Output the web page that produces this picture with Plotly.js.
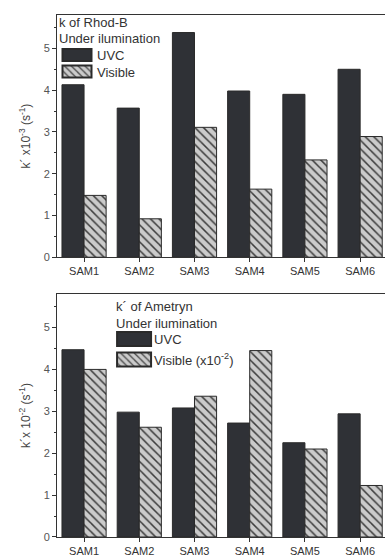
<!DOCTYPE html>
<html>
<head>
<meta charset="utf-8">
<script src="https://cdn.plot.ly/plotly-3.0.1.min.js"></script>
<style>html,body{margin:0;padding:0;background:#fff;}#chart{width:385px;height:557px;}</style>
</head>
<body>
<div id="chart"></div>
<script>
const categories = ["SAM1", "SAM2", "SAM3", "SAM4", "SAM5", "SAM6"];
const rhodUVC = [4.13, 3.57, 5.38, 3.98, 3.90, 4.50];
const rhodVisible = [1.48, 0.92, 3.11, 1.63, 2.33, 2.89];
const ametrynUVC = [4.47, 2.98, 3.08, 2.72, 2.25, 2.94];
const ametrynVisible = [4.00, 2.62, 3.36, 4.45, 2.10, 1.23];
const yTicks = [0, 1, 2, 3, 4, 5];

const darkFill = "#2f3136";
const hatch = {shape: "\\", bgcolor: "#cbcbcb", fgcolor: "#3c3c3c", size: 6, solidity: 0.25};
const outline = {color: "#2a2a2a", width: 1};

const data = [
  {type: "bar", x: categories, y: rhodUVC, name: "UVC", xaxis: "x", yaxis: "y",
   marker: {color: darkFill, line: outline}, legend: "legend"},
  {type: "bar", x: categories, y: rhodVisible, name: "Visible", xaxis: "x", yaxis: "y",
   marker: {color: "#cbcbcb", pattern: hatch, line: outline}, legend: "legend"},
  {type: "bar", x: categories, y: ametrynUVC, name: "UVC", xaxis: "x2", yaxis: "y2",
   marker: {color: darkFill, line: outline}, legend: "legend2"},
  {type: "bar", x: categories, y: ametrynVisible, name: "Visible (x10<sup>-2</sup>)", xaxis: "x2", yaxis: "y2",
   marker: {color: "#cbcbcb", pattern: hatch, line: outline}, legend: "legend2"}
];

const fontFam = "Liberation Sans, Arial, sans-serif";
function xa(anchor) {
  return {anchor: anchor, range: [-0.49, 5.45], showline: true, linecolor: "#333", linewidth: 1, mirror: true,
    ticks: "outside", ticklen: 4, tickcolor: "#333", tickfont: {family: fontFam, size: 11, color: "#333"},
    showgrid: false, zeroline: false, fixedrange: true};
}
function ya(anchor, domain, title) {
  return {anchor: anchor, domain: domain, range: [0, 5.8], tickvals: yTicks, ticktext: yTicks.map(String),
    showline: true, linecolor: "#333", linewidth: 1, mirror: true,
    ticks: "outside", ticklen: 4, tickcolor: "#333", tickfont: {family: fontFam, size: 11, color: "#555"},
    minor: {dtick: 0.5, ticks: "outside", ticklen: 2, tickcolor: "#333"},
    showgrid: false, zeroline: false, fixedrange: true,
    title: {text: title, font: {family: fontFam, size: 12, color: "#444"}, standoff: 10}};
}

const legendFont = {family: fontFam, size: 13, color: "#333"};
const legendBase = {bgcolor: "rgba(0,0,0,0)", borderwidth: 0, font: legendFont,
  itemwidth: 30, xanchor: "left", yanchor: "top", itemsizing: "constant", tracegroupgap: 0};

const layout = {
  width: 385, height: 557,
  margin: {l: 57, r: 0, t: 15, b: 20},
  paper_bgcolor: "#fff", plot_bgcolor: "#fff",
  barmode: "group", bargap: 0.2, bargroupgap: 0,
  font: {family: fontFam},
  xaxis: xa("y"),
  yaxis: ya("x", [0.536, 1], "k´ x10<sup>-3</sup> (s<sup>-1</sup>)"),
  xaxis2: xa("y2"),
  yaxis2: ya("x2", [0, 0.4655], "k´x 10<sup>-2</sup> (s<sup>-1</sup>)"),
  legend: Object.assign({}, legendBase, {x: 0.0, y: 1.0,
    title: {text: "k of Rhod-B<br>Under ilumination", font: legendFont, side: "top"}}),
  legend2: Object.assign({}, legendBase, {x: 0.174, y: 0.4655,
    title: {text: "k´ of Ametryn<br>Under ilumination", font: legendFont, side: "top"}}),
  showlegend: true
};

// target vertical centres (px) for legend rows: [title line 1, title line 2, item 1, item 2]
const legendRows = {legend: [22.5, 38.5, 55, 71.5], legend2: [304, 322, 339, 359.5]};

function cy(el) { const r = el.getBoundingClientRect(); return (r.top + r.bottom) / 2; }

Plotly.newPlot("chart", data, layout, {displayModeBar: false, staticPlot: true}).then(function (gd) {
  ["legend", "legend2"].forEach(function (name) {
    const lg = gd.querySelector("g." + name);
    if (!lg) return;
    const rows = legendRows[name];
    const title = lg.querySelector("text.legendtitletext");
    if (title) {
      const lines = title.querySelectorAll("tspan.line");
      const first = lines.length ? lines[0] : title;
      const d1 = rows[0] - cy(first);
      const prev = title.getAttribute("transform") || "";
      title.setAttribute("transform", prev + " translate(0," + d1 + ")");
      if (lines.length > 1) {
        const d2 = rows[1] - cy(lines[1]);
        const fs = 13;
        lines[1].setAttribute("dy", (1.3 * fs + d2) + "px");
      }
    }
    const items = lg.querySelectorAll("g.traces");
    items.forEach(function (g, i) {
      const path = g.querySelector(".legendpoints path");
      if (!path) return;
      path.setAttribute("d", name === "legend2" ? "M17,7H-17V-7H17Z" : "M14.5,6H-14.5V-6H14.5Z");
      const delta = rows[2 + i] - cy(path);
      const tr = g.getAttribute("transform") || "";
      const m = tr.match(/translate\(\s*([-\d.e]+)[ ,]+([-\d.e]+)\s*\)/);
      if (m) {
        g.setAttribute("transform", "translate(" + m[1] + "," + (parseFloat(m[2]) + delta) + ")");
      } else {
        g.setAttribute("transform", tr + " translate(0," + delta + ")");
      }
    });
  });
});
</script>
</body>
</html>
